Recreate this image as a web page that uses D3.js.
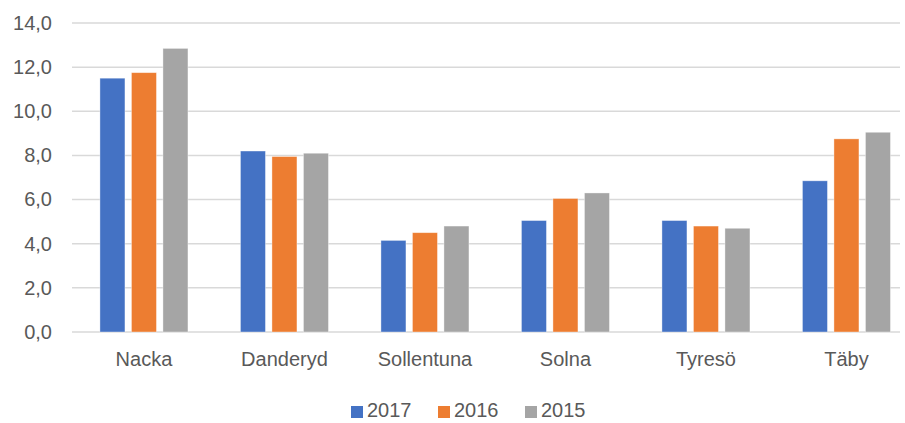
<!DOCTYPE html>
<html>
<head>
<meta charset="utf-8">
<script src="https://cdn.jsdelivr.net/npm/d3@7"></script>
<style>
  html, body { margin: 0; padding: 0; background: #fff; }
  svg { display: block; }
  text { font-family: "Liberation Sans", Arial, sans-serif; fill: #595959; }
</style>
</head>
<body>
<svg id="chart" width="905" height="423"></svg>
<script>
const categories = ["Nacka", "Danderyd", "Sollentuna", "Solna", "Tyresö", "Täby"];
const series = ["2017", "2016", "2015"];
const values2017 = [11.5, 8.2, 4.15, 5.05, 5.05, 6.85];
const values2016 = [11.75, 7.95, 4.5, 6.05, 4.8, 8.75];
const values2015 = [12.85, 8.1, 4.8, 6.3, 4.7, 9.05];
const yTicks = [0, 2, 4, 6, 8, 10, 12, 14];
const colors = ["#4472C4", "#ED7D31", "#A5A5A5"];

const seriesValues = [values2017, values2016, values2015];
const svg = d3.select("#chart");

const plotLeft = 72, plotRight = 900, plotTop = 23, plotBottom = 332;

const y = d3.scaleLinear().domain([0, 14]).range([plotBottom, plotTop]);
const x0 = d3.scaleBand().domain(categories).range([73.7, 916.7]).padding(0);
const x1 = d3.scaleBand().domain(series).range([0, x0.bandwidth()])
  .paddingInner(0.206).paddingOuter(0.833);
const color = d3.scaleOrdinal().domain(series).range(colors);
const fmt = v => d3.format(".1f")(v).replace(".", ",");

// gridlines
svg.append("g").selectAll("line").data(yTicks).join("line")
  .attr("x1", plotLeft).attr("x2", plotRight)
  .attr("y1", d => y(d)).attr("y2", d => y(d))
  .attr("stroke", "#D9D9D9").attr("stroke-width", 1.5);

// y axis labels
const yAxis = d3.axisLeft(y).tickValues(yTicks).tickFormat(fmt).tickSize(0).tickPadding(0);
const yg = svg.append("g").attr("transform", `translate(52,0)`).call(yAxis);
yg.select(".domain").remove();
yg.selectAll("text").attr("font-size", 20).attr("fill", "#595959")
  .style("font-family", '"Liberation Sans", Arial, sans-serif');

// bars
const groups = svg.append("g").selectAll("g").data(categories).join("g")
  .attr("transform", d => `translate(${x0(d)},0)`);
groups.selectAll("rect")
  .data((c, i) => series.map((s, j) => ({ s, v: seriesValues[j][i] })))
  .join("rect")
  .attr("x", d => x1(d.s))
  .attr("width", x1.bandwidth())
  .attr("y", d => y(d.v))
  .attr("height", d => y(0) - y(d.v))
  .attr("fill", d => color(d.s))
  .attr("stroke", "#ffffff").attr("stroke-opacity", 0.5).attr("stroke-width", 0.75);

// x axis labels
const xAxis = d3.axisBottom(x0).tickSize(0).tickPadding(0);
const xg = svg.append("g").attr("transform", `translate(0,352)`).call(xAxis);
xg.select(".domain").remove();
xg.selectAll("text").attr("font-size", 20).attr("fill", "#595959")
  .style("font-family", '"Liberation Sans", Arial, sans-serif');

// legend
const legendX = d3.scalePoint().domain(series).range([351, 525]);
const lg = svg.append("g").selectAll("g").data(series).join("g")
  .attr("transform", d => `translate(${legendX(d)},0)`);
lg.append("rect").attr("x", 0).attr("y", 406).attr("width", 12).attr("height", 12)
  .attr("fill", d => color(d));
lg.append("text").attr("x", 16).attr("y", 417).attr("font-size", 20).text(d => d);
</script>
</body>
</html>
